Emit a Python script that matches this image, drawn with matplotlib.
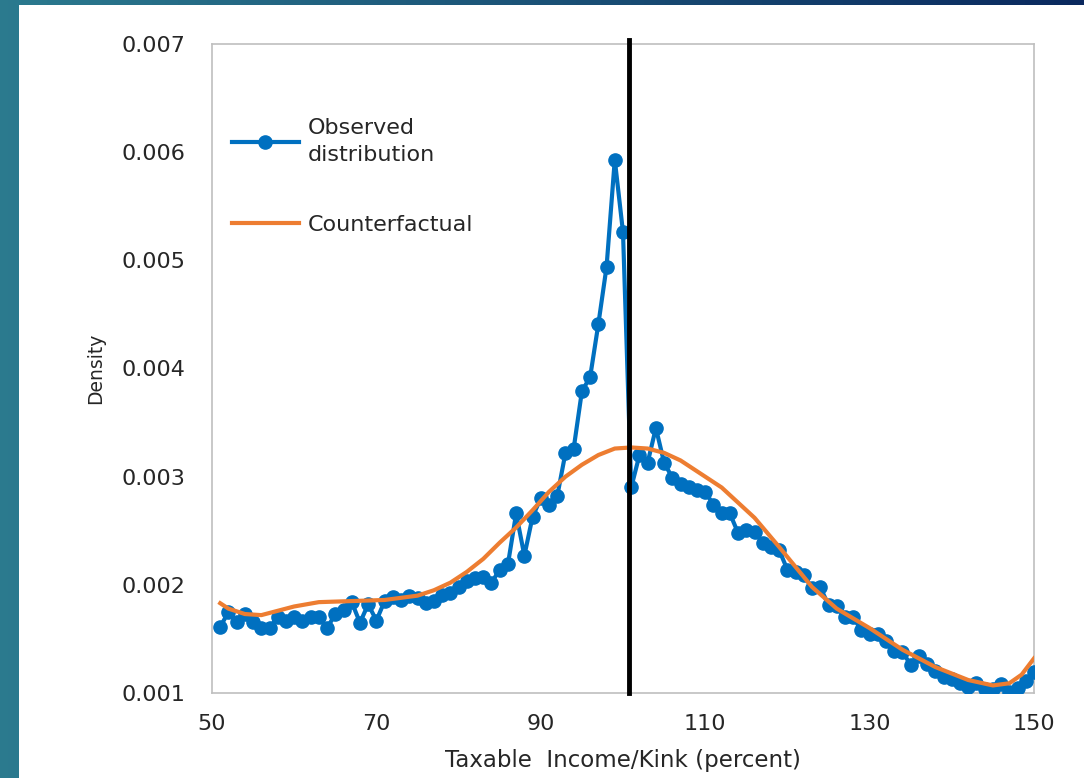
"""
Bunching at the kink: observed vs counterfactual density
"""

import numpy as np
import matplotlib.pyplot as plt
import matplotlib
from matplotlib.patches import Rectangle

matplotlib.rcParams['font.family'] = ['DejaVu Sans']

# 观测分布 (x = 51..150)
income_pct = list(range(51, 151))
observed = [
    0.00161, 0.00175, 0.00166, 0.00173, 0.00166, 0.00160, 0.00160, 0.00170, 0.00167, 0.00170,
    0.00167, 0.00170, 0.00170, 0.00160, 0.00173, 0.00177, 0.00184, 0.00165, 0.00182, 0.00167,
    0.00185, 0.00189, 0.00186, 0.00190, 0.00188, 0.00183, 0.00185, 0.00191, 0.00192, 0.00198,
    0.00204, 0.00206, 0.00207, 0.00202, 0.00214, 0.00219, 0.00266, 0.00227, 0.00263, 0.00280,
    0.00274, 0.00282, 0.00322, 0.00326, 0.00379, 0.00392, 0.00441, 0.00494, 0.00593, 0.00526,
    0.00290, 0.00320, 0.00313, 0.00345, 0.00313, 0.00299, 0.00293, 0.00290, 0.00288, 0.00286,
    0.00274, 0.00266, 0.00266, 0.00248, 0.00251, 0.00249, 0.00239, 0.00235, 0.00232, 0.00214,
    0.00212, 0.00209, 0.00197, 0.00198, 0.00181, 0.00180, 0.00170, 0.00170, 0.00158, 0.00155,
    0.00155, 0.00148, 0.00139, 0.00138, 0.00126, 0.00134, 0.00127, 0.00120, 0.00115, 0.00113,
    0.00109, 0.00106, 0.00109, 0.00104, 0.00104, 0.00108, 0.00101, 0.00105, 0.00111, 0.00119,
]

# 反事实分布
cf_x = [51, 52, 54, 56, 58, 60, 63, 67, 71, 75, 77, 79, 81, 83, 85, 87, 89, 91, 93,
        95, 97, 99, 101, 103, 105, 107, 109, 112, 116, 119, 123, 126, 130, 134, 138,
        142, 145, 147, 148.5, 150]
cf_y = [0.00183, 0.00178, 0.00173, 0.00172, 0.00176, 0.00180, 0.00184, 0.00185, 0.00186,
        0.00190, 0.00195, 0.00202, 0.00212, 0.00224, 0.00239, 0.00253, 0.00269, 0.00286,
        0.00300, 0.00311, 0.00320, 0.00326, 0.00327, 0.00326, 0.00322, 0.00315, 0.00305,
        0.00290, 0.00262, 0.00235, 0.00198, 0.00178, 0.00160, 0.00140, 0.00124, 0.00112,
        0.00107, 0.00109, 0.00117, 0.00132]

kink = 100.7
x_ticks = [50, 70, 90, 110, 130, 150]
y_ticks = [0.001, 0.002, 0.003, 0.004, 0.005, 0.006, 0.007]

fig = plt.figure(figsize=(10.84, 7.78), dpi=100)

# 背景渐变
bg = fig.add_axes([0, 0, 1, 1], zorder=-10)
teal = np.array([0.17, 0.48, 0.56])
navy = np.array([0.04, 0.16, 0.37])
t = np.linspace(0, 1, 256)[None, :, None]
grad = teal * (1 - t) + navy * t
bg.imshow(grad, aspect='auto', extent=[0, 1, 0, 1])
bg.add_patch(Rectangle((19 / 1084, 0), 1, 773 / 778, facecolor='white',
                       edgecolor='none', transform=bg.transAxes))
bg.set_axis_off()

ax = fig.add_axes([212 / 1084, 85 / 778, 822 / 1084, 649 / 778])
ax.set_facecolor('white')

ax.plot(income_pct, observed, color='#0070C0', linewidth=3, marker='o',
        markersize=9.5, label='Observed\ndistribution', zorder=3)
ax.plot(cf_x, cf_y, color='#ED7D31', linewidth=3, label='Counterfactual', zorder=4)
ax.axvline(kink, color='black', linewidth=3.5, ymax=1.006, clip_on=False, zorder=5)

ax.set_xlim(50, 150)
ax.set_ylim(0.001, 0.007)
ax.set_xticks(x_ticks)
ax.set_yticks(y_ticks)
ax.set_yticklabels([f'{v:.3f}' for v in y_ticks])
ax.tick_params(length=0, labelsize=16, colors='#262626')
ax.tick_params(axis='y', pad=19)
ax.tick_params(axis='x', pad=15)

for s in ax.spines.values():
    s.set_color('#BFBFBF')
    s.set_linewidth(1.2)

ax.set_xlabel('Taxable  Income/Kink (percent)', fontsize=16.5, color='#262626', labelpad=11)
ax.set_ylabel('Density', fontsize=13.5, color='#262626', labelpad=12)

leg = ax.legend(loc='upper left', bbox_to_anchor=(0.0, 0.917), frameon=False, fontsize=16,
                handlelength=3.0, handletextpad=0.4, labelspacing=2.25, labelcolor='#262626')
for txt in leg.get_texts():
    txt.set_linespacing(1.45)

plt.savefig('out.png', dpi=100)
